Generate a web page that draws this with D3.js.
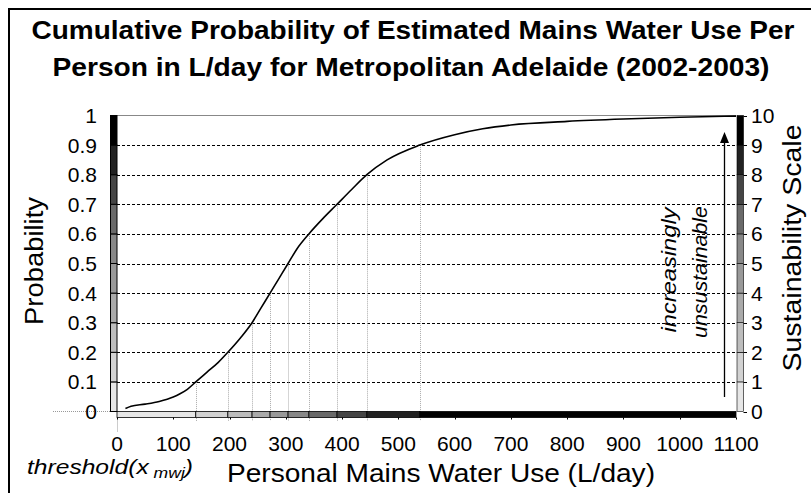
<!DOCTYPE html>
<html>
<head>
<meta charset="utf-8">
<script src="https://cdn.jsdelivr.net/npm/d3@7"></script>
<style>
  body { margin: 0; background: #fff; }
  text { font-family: "Liberation Sans", Arial, sans-serif; fill: #000; }
</style>
</head>
<body>
<div id="chart"></div>
<script>
// cumulative probability curve: [L/day, probability]
var usage = [15, 25, 50, 75, 100, 112, 125, 140, 160, 180, 197, 220, 240, 256, 272, 288, 304, 320, 341, 365, 391, 417, 444, 480, 538, 600, 650, 700, 800, 900, 1000, 1100];
var prob = [0.01, 0.018, 0.025, 0.034, 0.049, 0.06, 0.075, 0.1, 0.133, 0.166, 0.2, 0.25, 0.3, 0.35, 0.4, 0.45, 0.5, 0.55, 0.6, 0.65, 0.7, 0.75, 0.8, 0.85, 0.9, 0.935, 0.955, 0.968, 0.98, 0.988, 0.994, 0.998];

// thresholds where the curve crosses each decile (0.1 .. 0.9)
var thresholds = [140, 197, 240, 272, 304, 341, 391, 444, 538];
var deciles = [0.1, 0.2, 0.3, 0.4, 0.5, 0.6, 0.7, 0.8, 0.9];
var greys = ["#e6e6e6", "#d2d2d2", "#bdbdbd", "#aaaaaa", "#999999", "#888888", "#6a6a6a", "#454545", "#222222", "#000000"];

var xTicks = [0, 100, 200, 300, 400, 500, 600, 700, 800, 900, 1000, 1100];
var yTicks = [0, 0.1, 0.2, 0.3, 0.4, 0.5, 0.6, 0.7, 0.8, 0.9, 1];
var scaleTicks = [0, 1, 2, 3, 4, 5, 6, 7, 8, 9, 10];

var width = 811, height = 493;

var svg = d3.select("#chart").append("svg")
    .attr("width", width)
    .attr("height", height);

var x = d3.scaleLinear().domain([0, 1100]).range([117, 736]);
var y = d3.scaleLinear().domain([0, 1]).range([411.5, 115.5]);
var yR = d3.scaleLinear().domain([0, 10]).range([411.5, 115.5]);

// outer frame (only top and left visible)
svg.append("path")
    .attr("d", "M9,493V9H811")
    .attr("fill", "none")
    .attr("stroke", "#000")
    .attr("stroke-width", 2);

// title
var title = ["Cumulative Probability of Estimated Mains Water Use Per",
             "Person in L/day for Metropolitan Adelaide (2002-2003)"];
svg.selectAll(".title").data(title).enter().append("text")
    .attr("class", "title")
    .attr("x", function(d, i) { return i ? 411 : 413; })
    .attr("y", function(d, i) { return i ? 76 : 39; })
    .attr("text-anchor", "middle")
    .attr("textLength", function(d, i) { return i ? 717 : 763; })
    .attr("lengthAdjust", "spacingAndGlyphs")
    .style("font-size", "26px")
    .style("font-weight", "bold")
    .text(function(d) { return d; });

// horizontal dashed gridlines
svg.selectAll(".grid").data(deciles).enter().append("line")
    .attr("x1", x(0)).attr("x2", x(1100))
    .attr("y1", function(d) { return Math.round(y(d)) + 0.5; })
    .attr("y2", function(d) { return Math.round(y(d)) + 0.5; })
    .attr("stroke", "#000")
    .attr("stroke-dasharray", "3,2");

// top line at p = 1
svg.append("line")
    .attr("x1", x(0)).attr("x2", x(1100))
    .attr("y1", y(1)).attr("y2", y(1))
    .attr("stroke", "#888");

// zero lines extended outside the plot
svg.append("line")
    .attr("x1", 53).attr("x2", x(0))
    .attr("y1", y(0)).attr("y2", y(0))
    .attr("stroke", "#999").attr("stroke-dasharray", "1,1");
svg.append("line")
    .attr("x1", x(0) + 0.5).attr("x2", x(0) + 0.5)
    .attr("y1", y(0)).attr("y2", 432)
    .attr("stroke", "#999").attr("stroke-dasharray", "1,1");

// vertical dotted threshold lines
svg.selectAll(".vline").data(thresholds).enter().append("line")
    .attr("x1", function(d) { return Math.round(x(d)) + 0.5; })
    .attr("x2", function(d) { return Math.round(x(d)) + 0.5; })
    .attr("y1", function(d, i) { return y(deciles[i]); })
    .attr("y2", 421)
    .attr("stroke", "#aaa")
    .attr("stroke-dasharray", "1,1");

// curve
var line = d3.line()
    .x(function(d) { return x(d[0]); })
    .y(function(d) { return y(d[1]); })
    .curve(d3.curveMonotoneX);

svg.append("path")
    .datum(d3.zip(usage, prob))
    .attr("d", line)
    .attr("fill", "none")
    .attr("stroke", "#000")
    .attr("stroke-width", 1.6);

// left grey bar (probability deciles)
var bands = d3.range(10);
svg.selectAll(".lbar").data(bands).enter().append("rect")
    .attr("x", 110.5).attr("width", 6.5)
    .attr("y", function(d) { return y((d + 1) / 10); })
    .attr("height", function(d) { return y(d / 10) - y((d + 1) / 10); })
    .attr("fill", function(d) { return greys[d]; })
    .attr("stroke", "#000").attr("stroke-width", 1);

// right grey bar (sustainability scale)
svg.selectAll(".rbar").data(bands).enter().append("rect")
    .attr("x", 737).attr("width", 6.5)
    .attr("y", function(d) { return yR(d + 1); })
    .attr("height", function(d) { return yR(d) - yR(d + 1); })
    .attr("fill", function(d) { return greys[d]; })
    .attr("stroke", "#000").attr("stroke-width", 0.6);
svg.selectAll(".rtick").data(scaleTicks).enter().append("line")
    .attr("x1", 743.5).attr("x2", 747)
    .attr("y1", function(d) { return Math.round(yR(d)) + 0.5; })
    .attr("y2", function(d) { return Math.round(yR(d)) + 0.5; })
    .attr("stroke", "#000");

// bottom grey bar, split at the thresholds
var edges = [0].concat(thresholds, [1100]);
svg.selectAll(".bbar").data(bands).enter().append("rect")
    .attr("x", function(d) { return x(edges[d]); })
    .attr("width", function(d) { return x(edges[d + 1]) - x(edges[d]); })
    .attr("y", y(0)).attr("height", 6)
    .attr("fill", function(d) { return greys[d]; })
    .attr("stroke", "#000").attr("stroke-width", 0.8);
svg.selectAll(".btick").data(xTicks).enter().append("line")
    .attr("x1", function(d) { return Math.round(x(d)) + 0.5; })
    .attr("x2", function(d) { return Math.round(x(d)) + 0.5; })
    .attr("y1", y(0) + 6).attr("y2", y(0) + 8)
    .attr("stroke", "#000");

// tick labels
svg.selectAll(".ylab").data(yTicks).enter().append("text")
    .attr("x", 97)
    .attr("y", function(d) { return y(d) + 7.5; })
    .attr("text-anchor", "end")
    .style("font-size", "21px")
    .text(function(d) { return d; });

svg.selectAll(".rlab").data(scaleTicks).enter().append("text")
    .attr("x", 751)
    .attr("y", function(d) { return yR(d) + 7.5; })
    .style("font-size", "21px")
    .text(function(d) { return d; });

svg.selectAll(".xlab").data(xTicks).enter().append("text")
    .attr("x", function(d) { return x(d); })
    .attr("y", 451)
    .attr("text-anchor", "middle")
    .style("font-size", "21px")
    .text(function(d) { return d; });

// axis titles
svg.append("text")
    .attr("transform", "translate(43,261) rotate(-90)")
    .attr("text-anchor", "middle")
    .attr("textLength", 128).attr("lengthAdjust", "spacingAndGlyphs")
    .style("font-size", "26px")
    .text("Probability");

svg.append("text")
    .attr("transform", "translate(801,248) rotate(-90)")
    .attr("text-anchor", "middle")
    .attr("textLength", 247).attr("lengthAdjust", "spacingAndGlyphs")
    .style("font-size", "26px")
    .text("Sustainability Scale");

svg.append("text")
    .attr("x", 441).attr("y", 482)
    .attr("text-anchor", "middle")
    .attr("textLength", 428).attr("lengthAdjust", "spacingAndGlyphs")
    .style("font-size", "26px")
    .text("Personal Mains Water Use (L/day)");

var thr = svg.append("text")
    .attr("x", 27).attr("y", 474)
    .attr("textLength", 166).attr("lengthAdjust", "spacingAndGlyphs")
    .style("font-size", "21px")
    .style("font-style", "italic");
thr.append("tspan").text("threshold(x");
thr.append("tspan").attr("dy", 4).style("font-size", "15px").text(" mwj");
thr.append("tspan").attr("dy", -4).text(")");

// arrow with annotation
svg.append("line")
    .attr("x1", 724.5).attr("x2", 724.5)
    .attr("y1", 397).attr("y2", 140)
    .attr("stroke", "#000").attr("stroke-width", 1.3);
svg.append("path")
    .attr("d", "M724.5,132L720,143L729,143Z")
    .attr("fill", "#000");

var notes = ["increasingly", "unsustainable"];
svg.selectAll(".note").data(notes).enter().append("text")
    .attr("transform", function(d, i) {
        return "translate(" + (i ? 707 : 676) + "," + (i ? 272 : 270) + ") rotate(-90)";
    })
    .attr("text-anchor", "middle")
    .attr("textLength", function(d, i) { return i ? 132 : 125; })
    .attr("lengthAdjust", "spacingAndGlyphs")
    .style("font-size", "21px")
    .style("font-style", "italic")
    .text(function(d) { return d; });
</script>
</body>
</html>
